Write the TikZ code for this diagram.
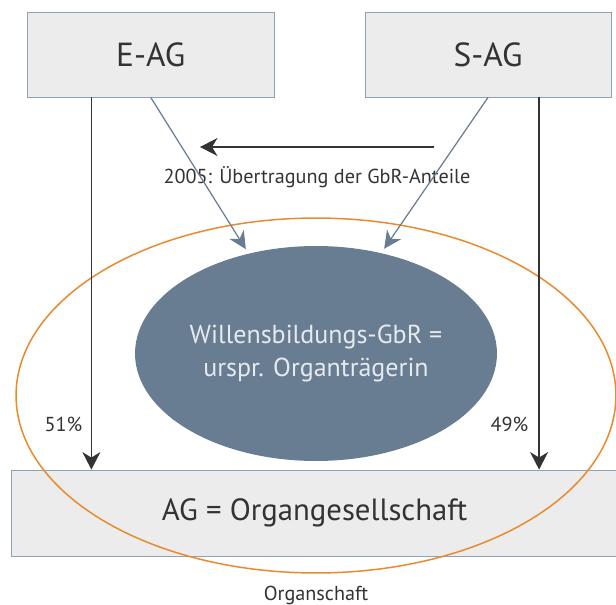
\documentclass[tikz,border=0pt]{standalone}
\usepackage{fontspec}
\setmainfont{PT Sans}
\usepackage{xcolor}
\usepackage{tikz}
\usetikzlibrary{arrows.meta, positioning, calc, shapes.geometric}
\definecolor{boxgray}{HTML}{ECECEC}
\definecolor{boxline}{HTML}{8FA2B4}
\definecolor{gbrblue}{HTML}{687D92}
\definecolor{gbrtext}{HTML}{E6EAEE}
\definecolor{orgorange}{HTML}{E98A2E}
\definecolor{flowblack}{HTML}{333333}
\tikzstyle{org.company} = [rectangle, fill=boxgray, draw=boxline, line width=0.5pt, inner sep=0pt, text=flowblack, font=\fontsize{19}{22}\selectfont]
\tikzstyle{org.gbr} = [ellipse, fill=gbrblue, text=gbrtext, inner sep=0pt, minimum width=7.24cm, minimum height=4.3cm, align=center, font=\fontsize{14.8}{18.5}\selectfont]
\tikzstyle{org.ring} = [ellipse, draw=orgorange, line width=0.85pt, minimum width=12cm, minimum height=7.1cm]
\tikzstyle{org.flow} = [-{Stealth[length=3.5mm, width=3.6mm, inset=1.1mm]}, line width=0.8pt, flowblack]
\tikzstyle{org.vote} = [-{Stealth[length=3.5mm, width=3.4mm, inset=1.1mm]}, line width=0.7pt, gbrblue]
\tikzstyle{org.label} = [text=flowblack, font=\fontsize{11.5}{13}\selectfont]

\begin{document}
\begin{tikzpicture}[x=0.02cm, y=-0.02cm]
\useasboundingbox (0,0) rectangle (616,605);
\node[org.company, minimum width=4.93cm, minimum height=1.7cm] (eag) at (150.75,54.5) {E-AG};
\node[org.company, minimum width=4.92cm, minimum height=1.7cm] (sag) at (488,54.5) {S-AG};
\node[org.company, minimum width=12.14cm, minimum height=1.72cm, font=\fontsize{17.5}{20}\selectfont] (ag) at (314.5,513) {AG = Organgesellschaft};
\node[org.gbr] (gbr) at (316,353.5) {Willensbildungs-GbR =\\urspr. Organträgerin};
\node[org.ring] (ring) at (316,395.5) {};
\node[org.label, below=0.12cm of ring] (organschaft) {Organschaft};

\coordinate (eagstake) at ($(eag.south west)!0.26!(eag.south east)$);
\coordinate (sagstake) at ($(sag.south west)!0.707!(sag.south east)$);
\coordinate (handover) at (434,147);
\coordinate (takeover) at (200,147);

\draw[org.flow] (eagstake) -- (eagstake |- ag.north) node[org.label, pos=0.88, left=1.5pt] {51\%};
\draw[org.flow] (sagstake) -- (sagstake |- ag.north) node[org.label, pos=0.88, left=2.5pt] {49\%};
\draw[org.flow] (handover) -- node[org.label, yshift=-0.6cm] {2005: Übertragung der GbR-Anteile} (takeover);

\draw[org.vote, shorten >=0.1cm] (eag.south) -- (gbr.124);
\draw[org.vote, shorten >=0.1cm] (sag.south) -- (gbr.57);
\end{tikzpicture}
\end{document}
